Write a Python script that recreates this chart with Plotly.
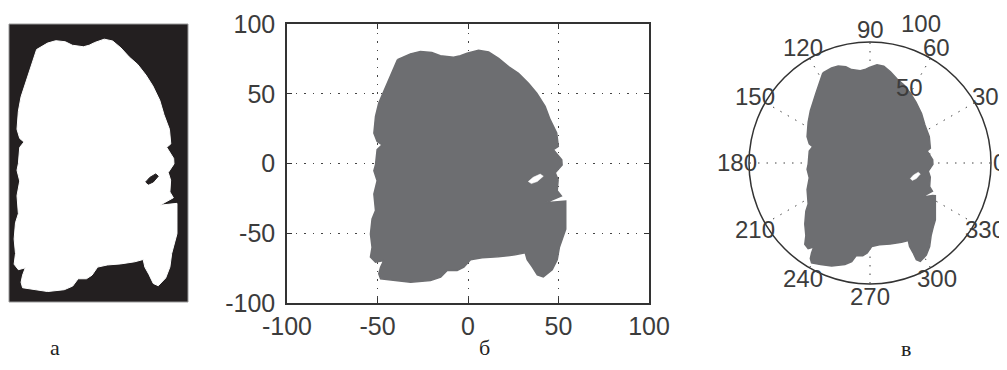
import numpy as np
import plotly.graph_objects as go

# ---- data: outline of the region (x, y) ----
outline_x = [-39.0, -31.8, -26.3, -20.0, -15.3, -8.0, -4.2, -0.5, 5.8, 11.4, 16.9, 22.4, 27.9, 33.4, 38.0,
             42.6, 45.4, 49.0, 49.9, 47.2, 51.8, 52.0, 48.2, 49.8, 49.3, 51.6, 42.7, 51.6, 54.0, 54.0,
             52.5, 50.5, 49.3, 46.5, 41.6, 38.3, 35.5, 32.7, 31.6, 26.0, 16.6, 7.8, 1.4, -2.3, -6.0,
             -11.5, -15.1, -20.7, -31.7, -40.9, -48.3, -49.3, -48.3, -46.5, -51.1, -53.9, -53.0, -53.9,
             -53.0, -51.1, -52.0, -50.2, -52.0, -51.1, -50.2, -47.4, -50.2, -52.0, -51.1, -49.3, -47.0,
             -44.7, -41.9]
outline_y = [74.4, 78.6, 80.2, 79.5, 77.2, 76.2, 77.2, 79.0, 81.2, 80.0, 75.4, 69.4, 64.6, 57.6, 50.4,
             40.9, 31.4, 21.8, 12.2, 9.9, 2.6, -1.0, -6.7, -11.7, -19.5, -23.3, -28.2, -26.9, -27.0, -47.0,
             -52.0, -60.0, -69.0, -76.2, -81.3, -79.8, -74.0, -69.0, -64.0, -65.5, -66.9, -67.6, -69.0,
             -74.3, -76.7, -76.7, -81.5, -83.9, -85.1, -83.9, -82.6, -79.0, -74.3, -69.5, -70.7, -67.1,
             -60.1, -50.5, -39.8, -33.8, -21.9, -12.3, -5.2, -0.9, 9.9, 13.4, 15.8, 21.8, 33.7, 43.3,
             50.4, 57.6, 65.9]
hole_x = [33.3, 36.0, 39.9, 41.6, 38.3, 35.0]
hole_y = [-12.9, -9.9, -7.6, -9.1, -12.9, -14.4]

x_ticks = [-100, -50, 0, 50, 100]
x_tick_text = ["-100", "-50", "0", "50", "100"]
y_ticks = [-100, -50, 0, 50, 100]
y_tick_text = ["-100", "-50", "0", "50", "100"]
angle_ticks = [0, 30, 60, 90, 120, 150, 180, 210, 240, 270, 300, 330]
radial_ticks = [50, 100]
panel_labels = ["а", "б", "в"]

W, H = 1007, 370
OFF = 8  # default page body margin
GRAY = "#6d6e71"
TXT = "#3c3c3c"
FONT = "Liberation Sans, Arial, sans-serif"
DOT = "1.5px,7px"


def px(xp):
    return (xp - OFF) / W


def py(yp):
    return 1 - (yp - OFF) / H


ox = outline_x + [outline_x[0]]
oy = outline_y + [outline_y[0]]
hx = hole_x + [hole_x[0]]
hy = hole_y + [hole_y[0]]

fig = go.Figure()

# panel a: binary image
fig.add_trace(go.Scatter(x=ox, y=oy, fill="toself", fillcolor="white", mode="lines",
                         line=dict(color="white", width=1), xaxis="x", yaxis="y",
                         hoverinfo="skip", showlegend=False))
fig.add_trace(go.Scatter(x=hx, y=hy, fill="toself", fillcolor="#231f20", mode="lines",
                         line=dict(color="#231f20", width=1), xaxis="x", yaxis="y",
                         hoverinfo="skip", showlegend=False))

# panel b: cartesian
fig.add_trace(go.Scatter(x=ox, y=oy, fill="toself", fillcolor=GRAY, mode="lines",
                         line=dict(color=GRAY, width=1.5), xaxis="x2", yaxis="y2",
                         hoverinfo="skip", showlegend=False))
fig.add_trace(go.Scatter(x=hx, y=hy, fill="toself", fillcolor="white", mode="lines",
                         line=dict(color="white", width=0.5), xaxis="x2", yaxis="y2",
                         hoverinfo="skip", showlegend=False))

# panel c: polar
ax = np.array(ox)
ay = np.array(oy)
r = np.hypot(ax, ay)
th = np.degrees(np.arctan2(ay, ax))
hr = np.hypot(np.array(hx), np.array(hy))
hth = np.degrees(np.arctan2(np.array(hy), np.array(hx)))
fig.add_trace(go.Scatterpolar(r=r, theta=th, fill="toself", fillcolor=GRAY, mode="lines",
                              line=dict(color=GRAY, width=1.5), subplot="polar",
                              hoverinfo="skip", showlegend=False))
fig.add_trace(go.Scatterpolar(r=hr, theta=hth, fill="toself", fillcolor="white", mode="lines",
                              line=dict(color="white", width=0.5), subplot="polar",
                              hoverinfo="skip", showlegend=False))

axis_common = dict(showline=True, linecolor="#333333", linewidth=1.5, mirror="ticks",
                   ticks="inside", ticklen=5, tickcolor="#333333", zeroline=False,
                   showgrid=True, gridcolor="#444444", griddash=DOT, gridwidth=1.3,
                   automargin=False,
                   tickfont=dict(family=FONT, size=25, color=TXT))

annotations = []
# angular labels for polar
cx, cy, R = 870, 163, 121
for a in angle_ticks:
    rf = 1.07 if a == 0 else 1.1
    xx = cx + rf * R * np.cos(np.radians(a))
    yy = cy - rf * R * np.sin(np.radians(a))
    annotations.append(dict(x=px(xx), y=py(yy), xref="paper", yref="paper", text=str(a),
                            showarrow=False, xanchor="center", yanchor="middle",
                            font=dict(family=FONT, size=24, color=TXT)))
# radial labels
for rv, (xx, yy) in zip(radial_ticks, [(909, 87), (921, 23)]):
    annotations.append(dict(x=px(xx), y=py(yy), xref="paper", yref="paper", text=str(rv),
                            showarrow=False, xanchor="center", yanchor="middle",
                            font=dict(family=FONT, size=24, color=TXT)))
# panel labels
for lab, (xx, yy) in zip(panel_labels, [(55, 347), (484, 347), (906, 348)]):
    annotations.append(dict(x=px(xx), y=py(yy), xref="paper", yref="paper", text=lab,
                            showarrow=False, xanchor="center", yanchor="middle",
                            font=dict(family="Liberation Serif, Times New Roman, serif", size=22,
                                      color="#222222")))

fig.update_layout(
    width=W, height=H, margin=dict(l=0, r=0, t=0, b=0, pad=0, autoexpand=False),
    paper_bgcolor="white", plot_bgcolor="white",
    xaxis=dict(domain=[px(9), px(188)], range=[-57.3, 61.3], visible=False, fixedrange=True),
    yaxis=dict(domain=[py(302), py(24)], range=[-92, 91.2], visible=False, fixedrange=True),
    xaxis2=dict(domain=[px(287), px(649)], range=[-100, 100], tickvals=x_ticks,
                ticktext=x_tick_text, anchor="y2", ticklabelstandoff=0, **axis_common),
    yaxis2=dict(domain=[py(303), py(24)], range=[-100, 100], tickvals=y_ticks,
                ticktext=y_tick_text, anchor="x2", ticklabelstandoff=5, **axis_common),
    polar=dict(
        domain=dict(x=[px(cx - R), px(cx + R)], y=[py(cy + R), py(cy - R)]),
        bgcolor="white",
        radialaxis=dict(range=[0, 100], tickvals=[50], showticklabels=False, showline=False,
                        ticks="", showgrid=True, gridcolor="#444444", griddash=DOT, gridwidth=1.3),
        angularaxis=dict(tickvals=angle_ticks, showticklabels=False, ticks="", showline=True,
                         linecolor="#333333", linewidth=1.5, showgrid=True, gridcolor="#444444",
                         griddash=DOT, gridwidth=1.3, direction="counterclockwise", rotation=0),
    ),
    shapes=[dict(type="rect", xref="x domain", yref="y domain", x0=0, x1=1, y0=0, y1=1,
                 fillcolor="#231f20", line=dict(color="#9a9a9a", width=1), layer="below")],
    annotations=annotations,
)

fig.write_html("out.html")
